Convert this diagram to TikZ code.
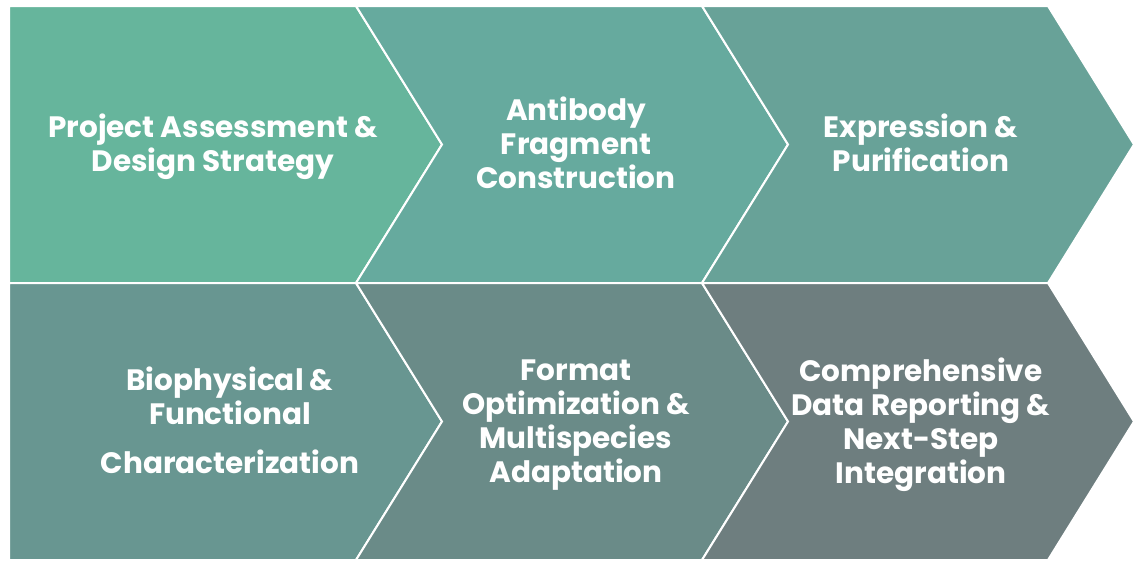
\documentclass[tikz,border=0pt]{standalone}
\usepackage{fontspec}
\setmainfont{Poppins}
\usepackage{xcolor}
\usepackage{tikz}

\definecolor{stepone}{RGB}{102,181,156}
\definecolor{steptwo}{RGB}{102,170,158}
\definecolor{stepthree}{RGB}{104,162,152}
\definecolor{stepfour}{RGB}{104,150,145}
\definecolor{stepfive}{RGB}{106,139,136}
\definecolor{stepsix}{RGB}{110,126,127}

\begin{document}
\begin{tikzpicture}[x=1pt,y=-1pt]
    % Define styles
    \tikzset{
        chevron/.style={draw=white, line width=2pt, line join=miter},
        steptext/.style={text=white, font=\bfseries\fontsize{29.5}{34}\selectfont, align=center, inner sep=0pt}
    }
    \useasboundingbox (0,0) rectangle (1141,570);

    % Top row
    \path[chevron, fill=stepone] (9,6) -- (356,6) -- (442,144.5) -- (356,283) -- (9,283) -- cycle;
    \path[chevron, fill=steptwo] (356,6) -- (702,6) -- (788,144.5) -- (702,283) -- (356,283) -- (442,144.5) -- cycle;
    \path[chevron, fill=stepthree] (702,6) -- (1048,6) -- (1134,144.5) -- (1048,283) -- (702,283) -- (788,144.5) -- cycle;

    % Bottom row
    \path[chevron, fill=stepfour] (9,283) -- (356,283) -- (442,421.5) -- (356,560) -- (9,560) -- cycle;
    \path[chevron, fill=stepfive] (356,283) -- (702,283) -- (788,421.5) -- (702,560) -- (356,560) -- (442,421.5) -- cycle;
    \path[chevron, fill=stepsix] (702,283) -- (1048,283) -- (1134,421.5) -- (1048,560) -- (702,560) -- (788,421.5) -- cycle;

    % Nodes
    \node[steptext] (assessment) at (213,147) {Project Assessment \&\\Design Strategy};
    \node[steptext] (construction) at (576,142.5) {Antibody\\Fragment\\Construction};
    \node[steptext] (expression) at (921,143) {Expression \&\\Purification};
    \node[steptext] (characterization) at (230,420.5) {Biophysical \&\\Functional\\[15pt]Characterization};
    \node[steptext] (optimization) at (576,425.5) {Format\\Optimization \&\\Multispecies\\Adaptation};
    \node[steptext] (reporting) at (921,424.5) {Comprehensive\\Data Reporting \&\\Next-Step\\Integration};
\end{tikzpicture}
\end{document}
